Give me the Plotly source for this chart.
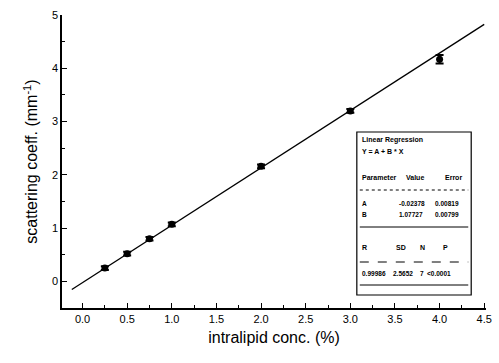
import plotly.graph_objects as go

# data
conc = [0.25, 0.5, 0.75, 1.0, 2.0, 3.0, 4.0]
scat = [0.25, 0.52, 0.80, 1.07, 2.16, 3.20, 4.17]
err = [0.035, 0.035, 0.035, 0.035, 0.035, 0.035, 0.08]
fit_A = -0.02378
fit_B = 1.07727
fit_x = [-0.12, 4.5]
fit_y = [fit_A + fit_B * x for x in fit_x]

param_head = ["Parameter", "Value", "Error"]
param_rows = [["A", "-0.02378", "0.00819"], ["B", "1.07727", "0.00799"]]
stat_head = ["R", "SD", "N", "P"]
stat_vals = ["0.99986", "2.5652", "7", "<0.0001"]

W, H = 499, 363
L, R, T, B = 62, 7, 15, 55
PW, PH = W - L - R, H - T - B

def px(x):
    return (x - L) / PW

def py(y):
    return 1 - (y - T) / PH

fig = go.Figure()
fig.add_trace(go.Scatter(x=fit_x, y=fit_y, mode="lines",
                         line=dict(color="black", width=1.3), showlegend=False))
fig.add_trace(go.Scatter(x=conc, y=scat, mode="markers",
                         marker=dict(symbol="circle", size=7, color="black"),
                         error_y=dict(type="data", array=err, color="black", thickness=2, width=4),
                         showlegend=False))

font = "Liberation Sans, Arial, sans-serif"
fig.update_layout(
    width=W, height=H, margin=dict(l=L, r=R, t=T, b=B),
    paper_bgcolor="white", plot_bgcolor="white",
    font=dict(family=font, color="black"),
    xaxis=dict(range=[-0.23, 4.52], tick0=0, dtick=0.5, tickformat=".1f",
               ticks="inside", ticklen=5, tickwidth=1, tickcolor="black",
               minor=dict(dtick=0.25, ticks="inside", ticklen=3, tickcolor="black"),
               showline=True, linecolor="black", linewidth=1.5, showgrid=False, zeroline=False,
               tickfont=dict(size=11, color="black"),
               title=dict(text="intralipid conc. (%)", font=dict(size=16, color="black"), standoff=8)),
    yaxis=dict(range=[-0.5, 5.0], tick0=0, dtick=1,
               ticks="inside", ticklen=5, tickwidth=1, tickcolor="black",
               minor=dict(dtick=0.5, ticks="inside", ticklen=3, tickcolor="black"),
               showline=True, linecolor="black", linewidth=1.5, showgrid=False, zeroline=False,
               tickfont=dict(size=11, color="black"),
               title=dict(text="scattering coeff. (mm<sup>-1</sup>)", font=dict(size=16, color="black"), standoff=10)),
)

# regression box
bx0, bx1, by0, by1 = 361, 477, 132, 295
shapes = [dict(type="rect", xref="paper", yref="paper", x0=px(bx0), x1=px(bx1), y0=py(by1), y1=py(by0),
               line=dict(color="black", width=1.2), fillcolor="white")]
for yy, dash in [(190, "dot"), (227, "solid"), (262, "dash"), (285, "solid")]:
    shapes.append(dict(type="line", xref="paper", yref="paper", x0=px(364), x1=px(474), y0=py(yy), y1=py(yy),
                       line=dict(color="black", width=1, dash=dash)))
fig.update_layout(shapes=shapes)

def txt(x, y, s, size=7):
    fig.add_annotation(xref="paper", yref="paper", x=px(x), y=py(y), text="<b>" + s + "</b>", showarrow=False,
                       xanchor="left", yanchor="middle", font=dict(size=size, family=font, color="black"))

txt(364, 140, "Linear Regression")
txt(364, 151, "Y = A + B * X")
for cx, s in zip([364, 409, 448], param_head):
    txt(cx, 178, s)
for ry, row in zip([203, 214], param_rows):
    for cx, s in zip([364, 402, 438], row):
        txt(cx, ry, s, 6.5)
for cx, s in zip([364, 399, 423, 446], stat_head):
    txt(cx, 248, s)
for cx, s in zip([364, 396, 423, 430], stat_vals):
    txt(cx, 273, s, 6.5)

fig.write_html("out.html")
